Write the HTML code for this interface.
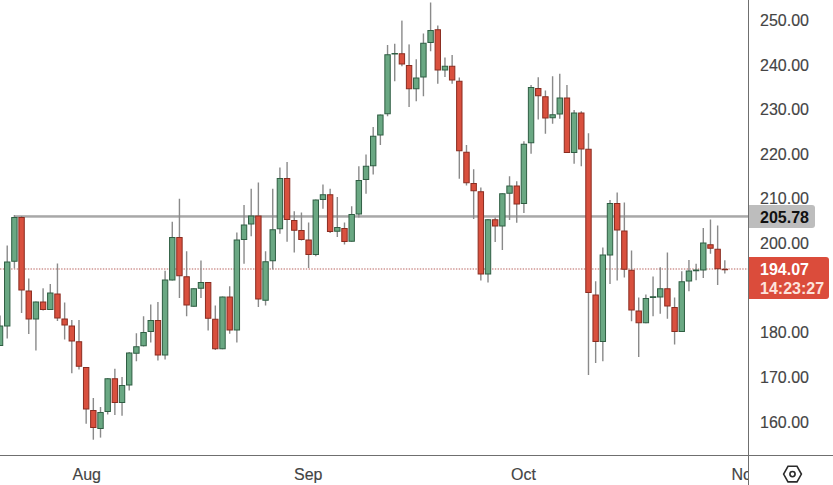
<!DOCTYPE html>
<html><head><meta charset="utf-8">
<style>
html,body{margin:0;padding:0;background:#fff;}
body{width:833px;height:485px;overflow:hidden;position:relative;font-family:"Liberation Sans",sans-serif;}
svg{position:absolute;left:0;top:0;}
.yl{position:absolute;left:760px;-webkit-text-stroke:0.15px #444;height:18px;line-height:18px;font-size:16px;color:#444;white-space:nowrap;}
.xl{position:absolute;top:466px;-webkit-text-stroke:0.15px #444;height:18px;line-height:18px;font-size:16px;color:#444;white-space:nowrap;}
.box{position:absolute;white-space:nowrap;font-weight:bold;font-size:16px;}
</style></head><body>
<svg width="833" height="485" viewBox="0 0 833 485">
<defs><clipPath id="cp"><rect x="0" y="0" width="748" height="455"/></clipPath></defs>
<g clip-path="url(#cp)">
<line x1="0" y1="269" x2="748" y2="269" stroke="#cf9592" stroke-width="1.3" stroke-dasharray="1.4,1.38"/>
<rect x="14" y="215.2" width="734" height="2.5" fill="#a8a8a8"/>
<rect x="-0.66" y="315.50" width="1.4" height="30.50" fill="#8a8a8a"/>
<rect x="-2.66" y="326.00" width="5.4" height="19.50" fill="#6aa883" stroke="#2f5e43" stroke-width="1"/>
<rect x="6.52" y="245.50" width="1.4" height="93.00" fill="#8a8a8a"/>
<rect x="4.52" y="262.00" width="5.4" height="64.00" fill="#6aa883" stroke="#2f5e43" stroke-width="1"/>
<rect x="13.70" y="215.00" width="1.4" height="53.50" fill="#8a8a8a"/>
<rect x="11.70" y="217.50" width="5.4" height="43.75" fill="#6aa883" stroke="#2f5e43" stroke-width="1"/>
<rect x="20.87" y="216.00" width="1.4" height="97.00" fill="#8a8a8a"/>
<rect x="18.87" y="217.50" width="5.4" height="72.50" fill="#d9503e" stroke="#8a2c20" stroke-width="1"/>
<rect x="28.05" y="278.50" width="1.4" height="55.50" fill="#8a8a8a"/>
<rect x="26.05" y="291.00" width="5.4" height="28.00" fill="#d9503e" stroke="#8a2c20" stroke-width="1"/>
<rect x="35.22" y="301.50" width="1.4" height="49.00" fill="#8a8a8a"/>
<rect x="33.22" y="302.00" width="5.4" height="17.00" fill="#6aa883" stroke="#2f5e43" stroke-width="1"/>
<rect x="42.40" y="288.30" width="1.4" height="22.20" fill="#8a8a8a"/>
<rect x="40.40" y="302.00" width="5.4" height="7.50" fill="#d9503e" stroke="#8a2c20" stroke-width="1"/>
<rect x="49.58" y="284.00" width="1.4" height="26.00" fill="#8a8a8a"/>
<rect x="47.58" y="293.00" width="5.4" height="16.50" fill="#6aa883" stroke="#2f5e43" stroke-width="1"/>
<rect x="56.75" y="263.50" width="1.4" height="57.50" fill="#8a8a8a"/>
<rect x="54.75" y="294.00" width="5.4" height="24.00" fill="#d9503e" stroke="#8a2c20" stroke-width="1"/>
<rect x="63.93" y="302.50" width="1.4" height="37.00" fill="#8a8a8a"/>
<rect x="61.93" y="319.00" width="5.4" height="6.00" fill="#d9503e" stroke="#8a2c20" stroke-width="1"/>
<rect x="71.10" y="320.00" width="1.4" height="53.25" fill="#8a8a8a"/>
<rect x="69.10" y="326.00" width="5.4" height="15.00" fill="#d9503e" stroke="#8a2c20" stroke-width="1"/>
<rect x="78.28" y="320.00" width="1.4" height="49.50" fill="#8a8a8a"/>
<rect x="76.28" y="341.75" width="5.4" height="24.50" fill="#d9503e" stroke="#8a2c20" stroke-width="1"/>
<rect x="85.46" y="367.00" width="1.4" height="56.75" fill="#8a8a8a"/>
<rect x="83.46" y="367.50" width="5.4" height="41.50" fill="#d9503e" stroke="#8a2c20" stroke-width="1"/>
<rect x="92.63" y="398.00" width="1.4" height="41.70" fill="#8a8a8a"/>
<rect x="90.63" y="410.50" width="5.4" height="17.00" fill="#d9503e" stroke="#8a2c20" stroke-width="1"/>
<rect x="99.81" y="407.00" width="1.4" height="30.60" fill="#8a8a8a"/>
<rect x="97.81" y="412.50" width="5.4" height="16.00" fill="#6aa883" stroke="#2f5e43" stroke-width="1"/>
<rect x="106.98" y="378.00" width="1.4" height="36.50" fill="#8a8a8a"/>
<rect x="104.98" y="378.75" width="5.4" height="32.75" fill="#6aa883" stroke="#2f5e43" stroke-width="1"/>
<rect x="114.16" y="368.75" width="1.4" height="46.25" fill="#8a8a8a"/>
<rect x="112.16" y="378.75" width="5.4" height="23.75" fill="#d9503e" stroke="#8a2c20" stroke-width="1"/>
<rect x="121.34" y="377.00" width="1.4" height="38.75" fill="#8a8a8a"/>
<rect x="119.34" y="385.50" width="5.4" height="17.00" fill="#6aa883" stroke="#2f5e43" stroke-width="1"/>
<rect x="128.51" y="352.00" width="1.4" height="38.50" fill="#8a8a8a"/>
<rect x="126.51" y="353.00" width="5.4" height="32.00" fill="#6aa883" stroke="#2f5e43" stroke-width="1"/>
<rect x="135.69" y="333.25" width="1.4" height="28.00" fill="#8a8a8a"/>
<rect x="133.69" y="346.75" width="5.4" height="6.50" fill="#6aa883" stroke="#2f5e43" stroke-width="1"/>
<rect x="142.86" y="316.25" width="1.4" height="30.25" fill="#8a8a8a"/>
<rect x="140.86" y="332.50" width="5.4" height="13.25" fill="#6aa883" stroke="#2f5e43" stroke-width="1"/>
<rect x="150.04" y="304.50" width="1.4" height="38.00" fill="#8a8a8a"/>
<rect x="148.04" y="320.50" width="5.4" height="11.00" fill="#6aa883" stroke="#2f5e43" stroke-width="1"/>
<rect x="157.22" y="302.00" width="1.4" height="58.50" fill="#8a8a8a"/>
<rect x="155.22" y="320.50" width="5.4" height="34.50" fill="#d9503e" stroke="#8a2c20" stroke-width="1"/>
<rect x="164.39" y="270.75" width="1.4" height="88.75" fill="#8a8a8a"/>
<rect x="162.39" y="280.00" width="5.4" height="75.00" fill="#6aa883" stroke="#2f5e43" stroke-width="1"/>
<rect x="171.57" y="221.75" width="1.4" height="58.75" fill="#8a8a8a"/>
<rect x="169.57" y="237.50" width="5.4" height="42.50" fill="#6aa883" stroke="#2f5e43" stroke-width="1"/>
<rect x="178.74" y="198.75" width="1.4" height="99.25" fill="#8a8a8a"/>
<rect x="176.74" y="237.50" width="5.4" height="38.25" fill="#d9503e" stroke="#8a2c20" stroke-width="1"/>
<rect x="185.92" y="251.25" width="1.4" height="65.00" fill="#8a8a8a"/>
<rect x="183.92" y="276.75" width="5.4" height="28.25" fill="#d9503e" stroke="#8a2c20" stroke-width="1"/>
<rect x="193.10" y="288.25" width="1.4" height="18.50" fill="#8a8a8a"/>
<rect x="191.10" y="288.75" width="5.4" height="17.50" fill="#6aa883" stroke="#2f5e43" stroke-width="1"/>
<rect x="200.27" y="260.50" width="1.4" height="37.50" fill="#8a8a8a"/>
<rect x="198.27" y="282.50" width="5.4" height="5.75" fill="#6aa883" stroke="#2f5e43" stroke-width="1"/>
<rect x="207.45" y="282.00" width="1.4" height="48.50" fill="#8a8a8a"/>
<rect x="205.45" y="282.50" width="5.4" height="35.75" fill="#d9503e" stroke="#8a2c20" stroke-width="1"/>
<rect x="214.62" y="305.50" width="1.4" height="44.50" fill="#8a8a8a"/>
<rect x="212.62" y="319.25" width="5.4" height="29.50" fill="#d9503e" stroke="#8a2c20" stroke-width="1"/>
<rect x="221.80" y="296.50" width="1.4" height="52.75" fill="#8a8a8a"/>
<rect x="219.80" y="297.00" width="5.4" height="51.75" fill="#6aa883" stroke="#2f5e43" stroke-width="1"/>
<rect x="228.98" y="286.25" width="1.4" height="47.50" fill="#8a8a8a"/>
<rect x="226.98" y="297.00" width="5.4" height="33.00" fill="#d9503e" stroke="#8a2c20" stroke-width="1"/>
<rect x="236.15" y="232.50" width="1.4" height="110.00" fill="#8a8a8a"/>
<rect x="234.15" y="240.00" width="5.4" height="90.00" fill="#6aa883" stroke="#2f5e43" stroke-width="1"/>
<rect x="243.33" y="205.00" width="1.4" height="58.75" fill="#8a8a8a"/>
<rect x="241.33" y="225.00" width="5.4" height="14.50" fill="#6aa883" stroke="#2f5e43" stroke-width="1"/>
<rect x="250.50" y="188.75" width="1.4" height="47.50" fill="#8a8a8a"/>
<rect x="248.50" y="216.00" width="5.4" height="8.00" fill="#6aa883" stroke="#2f5e43" stroke-width="1"/>
<rect x="257.68" y="182.50" width="1.4" height="124.50" fill="#8a8a8a"/>
<rect x="255.68" y="216.00" width="5.4" height="83.00" fill="#d9503e" stroke="#8a2c20" stroke-width="1"/>
<rect x="264.86" y="251.25" width="1.4" height="54.25" fill="#8a8a8a"/>
<rect x="262.86" y="261.75" width="5.4" height="38.50" fill="#6aa883" stroke="#2f5e43" stroke-width="1"/>
<rect x="272.03" y="188.75" width="1.4" height="80.75" fill="#8a8a8a"/>
<rect x="270.03" y="229.75" width="5.4" height="31.00" fill="#6aa883" stroke="#2f5e43" stroke-width="1"/>
<rect x="279.21" y="167.50" width="1.4" height="66.25" fill="#8a8a8a"/>
<rect x="277.21" y="178.50" width="5.4" height="50.25" fill="#6aa883" stroke="#2f5e43" stroke-width="1"/>
<rect x="286.38" y="162.00" width="1.4" height="79.75" fill="#8a8a8a"/>
<rect x="284.38" y="178.50" width="5.4" height="41.00" fill="#d9503e" stroke="#8a2c20" stroke-width="1"/>
<rect x="293.56" y="211.25" width="1.4" height="41.25" fill="#8a8a8a"/>
<rect x="291.56" y="220.50" width="5.4" height="9.75" fill="#d9503e" stroke="#8a2c20" stroke-width="1"/>
<rect x="300.74" y="212.50" width="1.4" height="28.00" fill="#8a8a8a"/>
<rect x="298.74" y="230.50" width="5.4" height="9.00" fill="#d9503e" stroke="#8a2c20" stroke-width="1"/>
<rect x="307.91" y="222.50" width="1.4" height="45.50" fill="#8a8a8a"/>
<rect x="305.91" y="240.00" width="5.4" height="14.50" fill="#d9503e" stroke="#8a2c20" stroke-width="1"/>
<rect x="315.09" y="199.50" width="1.4" height="56.75" fill="#8a8a8a"/>
<rect x="313.09" y="200.00" width="5.4" height="54.50" fill="#6aa883" stroke="#2f5e43" stroke-width="1"/>
<rect x="322.26" y="184.50" width="1.4" height="24.25" fill="#8a8a8a"/>
<rect x="320.26" y="194.75" width="5.4" height="4.75" fill="#6aa883" stroke="#2f5e43" stroke-width="1"/>
<rect x="329.44" y="188.75" width="1.4" height="44.25" fill="#8a8a8a"/>
<rect x="327.44" y="194.75" width="5.4" height="36.75" fill="#d9503e" stroke="#8a2c20" stroke-width="1"/>
<rect x="336.62" y="197.00" width="1.4" height="40.00" fill="#8a8a8a"/>
<rect x="334.62" y="227.50" width="5.4" height="3.75" fill="#6aa883" stroke="#2f5e43" stroke-width="1"/>
<rect x="343.79" y="222.50" width="1.4" height="22.00" fill="#8a8a8a"/>
<rect x="341.79" y="228.50" width="5.4" height="13.00" fill="#d9503e" stroke="#8a2c20" stroke-width="1"/>
<rect x="350.97" y="206.25" width="1.4" height="35.50" fill="#8a8a8a"/>
<rect x="348.97" y="214.50" width="5.4" height="26.75" fill="#6aa883" stroke="#2f5e43" stroke-width="1"/>
<rect x="358.14" y="166.25" width="1.4" height="51.25" fill="#8a8a8a"/>
<rect x="356.14" y="180.50" width="5.4" height="33.50" fill="#6aa883" stroke="#2f5e43" stroke-width="1"/>
<rect x="365.32" y="154.50" width="1.4" height="39.25" fill="#8a8a8a"/>
<rect x="363.32" y="166.25" width="5.4" height="13.25" fill="#6aa883" stroke="#2f5e43" stroke-width="1"/>
<rect x="372.50" y="127.00" width="1.4" height="47.50" fill="#8a8a8a"/>
<rect x="370.50" y="136.25" width="5.4" height="29.50" fill="#6aa883" stroke="#2f5e43" stroke-width="1"/>
<rect x="379.67" y="114.50" width="1.4" height="30.50" fill="#8a8a8a"/>
<rect x="377.67" y="115.00" width="5.4" height="20.00" fill="#6aa883" stroke="#2f5e43" stroke-width="1"/>
<rect x="386.85" y="45.00" width="1.4" height="71.25" fill="#8a8a8a"/>
<rect x="384.85" y="54.75" width="5.4" height="59.00" fill="#6aa883" stroke="#2f5e43" stroke-width="1"/>
<rect x="394.02" y="43.75" width="1.4" height="37.50" fill="#8a8a8a"/>
<rect x="392.02" y="53.50" width="5.4" height="0.50" fill="#6aa883" stroke="#2f5e43" stroke-width="1"/>
<rect x="401.20" y="20.60" width="1.4" height="45.65" fill="#8a8a8a"/>
<rect x="399.20" y="53.75" width="5.4" height="10.25" fill="#d9503e" stroke="#8a2c20" stroke-width="1"/>
<rect x="408.38" y="44.40" width="1.4" height="62.60" fill="#8a8a8a"/>
<rect x="406.38" y="65.50" width="5.4" height="23.25" fill="#d9503e" stroke="#8a2c20" stroke-width="1"/>
<rect x="415.55" y="59.25" width="1.4" height="42.00" fill="#8a8a8a"/>
<rect x="413.55" y="78.00" width="5.4" height="10.75" fill="#6aa883" stroke="#2f5e43" stroke-width="1"/>
<rect x="422.73" y="33.50" width="1.4" height="62.75" fill="#8a8a8a"/>
<rect x="420.73" y="43.25" width="5.4" height="33.75" fill="#6aa883" stroke="#2f5e43" stroke-width="1"/>
<rect x="429.90" y="2.50" width="1.4" height="48.75" fill="#8a8a8a"/>
<rect x="427.90" y="30.50" width="5.4" height="12.00" fill="#6aa883" stroke="#2f5e43" stroke-width="1"/>
<rect x="437.08" y="25.50" width="1.4" height="58.25" fill="#8a8a8a"/>
<rect x="435.08" y="29.75" width="5.4" height="40.25" fill="#d9503e" stroke="#8a2c20" stroke-width="1"/>
<rect x="444.26" y="57.50" width="1.4" height="19.50" fill="#8a8a8a"/>
<rect x="442.26" y="66.25" width="5.4" height="3.75" fill="#6aa883" stroke="#2f5e43" stroke-width="1"/>
<rect x="451.43" y="55.00" width="1.4" height="28.75" fill="#8a8a8a"/>
<rect x="449.43" y="66.25" width="5.4" height="13.75" fill="#d9503e" stroke="#8a2c20" stroke-width="1"/>
<rect x="458.61" y="77.50" width="1.4" height="101.25" fill="#8a8a8a"/>
<rect x="456.61" y="81.25" width="5.4" height="69.50" fill="#d9503e" stroke="#8a2c20" stroke-width="1"/>
<rect x="465.78" y="145.00" width="1.4" height="40.50" fill="#8a8a8a"/>
<rect x="463.78" y="152.25" width="5.4" height="30.50" fill="#d9503e" stroke="#8a2c20" stroke-width="1"/>
<rect x="472.96" y="169.25" width="1.4" height="49.75" fill="#8a8a8a"/>
<rect x="470.96" y="183.50" width="5.4" height="7.25" fill="#d9503e" stroke="#8a2c20" stroke-width="1"/>
<rect x="480.14" y="187.50" width="1.4" height="93.00" fill="#8a8a8a"/>
<rect x="478.14" y="191.75" width="5.4" height="82.25" fill="#d9503e" stroke="#8a2c20" stroke-width="1"/>
<rect x="487.31" y="219.25" width="1.4" height="63.25" fill="#8a8a8a"/>
<rect x="485.31" y="219.75" width="5.4" height="54.25" fill="#6aa883" stroke="#2f5e43" stroke-width="1"/>
<rect x="494.49" y="217.50" width="1.4" height="24.50" fill="#8a8a8a"/>
<rect x="492.49" y="219.75" width="5.4" height="6.25" fill="#d9503e" stroke="#8a2c20" stroke-width="1"/>
<rect x="501.66" y="193.25" width="1.4" height="56.75" fill="#8a8a8a"/>
<rect x="499.66" y="193.75" width="5.4" height="32.25" fill="#6aa883" stroke="#2f5e43" stroke-width="1"/>
<rect x="508.84" y="176.25" width="1.4" height="43.75" fill="#8a8a8a"/>
<rect x="506.84" y="186.00" width="5.4" height="7.25" fill="#6aa883" stroke="#2f5e43" stroke-width="1"/>
<rect x="516.02" y="181.25" width="1.4" height="41.50" fill="#8a8a8a"/>
<rect x="514.02" y="186.00" width="5.4" height="18.00" fill="#d9503e" stroke="#8a2c20" stroke-width="1"/>
<rect x="523.19" y="141.25" width="1.4" height="71.75" fill="#8a8a8a"/>
<rect x="521.19" y="144.25" width="5.4" height="59.25" fill="#6aa883" stroke="#2f5e43" stroke-width="1"/>
<rect x="530.37" y="85.00" width="1.4" height="68.75" fill="#8a8a8a"/>
<rect x="528.37" y="87.50" width="5.4" height="55.25" fill="#6aa883" stroke="#2f5e43" stroke-width="1"/>
<rect x="537.54" y="77.25" width="1.4" height="42.25" fill="#8a8a8a"/>
<rect x="535.54" y="88.50" width="5.4" height="7.25" fill="#d9503e" stroke="#8a2c20" stroke-width="1"/>
<rect x="544.72" y="90.50" width="1.4" height="43.25" fill="#8a8a8a"/>
<rect x="542.72" y="96.75" width="5.4" height="21.25" fill="#d9503e" stroke="#8a2c20" stroke-width="1"/>
<rect x="551.90" y="76.25" width="1.4" height="47.50" fill="#8a8a8a"/>
<rect x="549.90" y="114.75" width="5.4" height="3.00" fill="#6aa883" stroke="#2f5e43" stroke-width="1"/>
<rect x="559.07" y="73.75" width="1.4" height="45.00" fill="#8a8a8a"/>
<rect x="557.07" y="98.00" width="5.4" height="16.00" fill="#6aa883" stroke="#2f5e43" stroke-width="1"/>
<rect x="566.25" y="85.00" width="1.4" height="68.00" fill="#8a8a8a"/>
<rect x="564.25" y="98.00" width="5.4" height="54.50" fill="#d9503e" stroke="#8a2c20" stroke-width="1"/>
<rect x="573.42" y="110.00" width="1.4" height="53.75" fill="#8a8a8a"/>
<rect x="571.42" y="113.00" width="5.4" height="39.50" fill="#6aa883" stroke="#2f5e43" stroke-width="1"/>
<rect x="580.60" y="111.25" width="1.4" height="55.00" fill="#8a8a8a"/>
<rect x="578.60" y="113.00" width="5.4" height="36.00" fill="#d9503e" stroke="#8a2c20" stroke-width="1"/>
<rect x="587.78" y="133.25" width="1.4" height="241.75" fill="#8a8a8a"/>
<rect x="585.78" y="149.25" width="5.4" height="143.25" fill="#d9503e" stroke="#8a2c20" stroke-width="1"/>
<rect x="594.95" y="281.25" width="1.4" height="81.75" fill="#8a8a8a"/>
<rect x="592.95" y="295.00" width="5.4" height="46.50" fill="#d9503e" stroke="#8a2c20" stroke-width="1"/>
<rect x="602.13" y="247.50" width="1.4" height="113.75" fill="#8a8a8a"/>
<rect x="600.13" y="255.00" width="5.4" height="86.50" fill="#6aa883" stroke="#2f5e43" stroke-width="1"/>
<rect x="609.30" y="200.00" width="1.4" height="84.00" fill="#8a8a8a"/>
<rect x="607.30" y="203.50" width="5.4" height="51.50" fill="#6aa883" stroke="#2f5e43" stroke-width="1"/>
<rect x="616.48" y="192.50" width="1.4" height="88.00" fill="#8a8a8a"/>
<rect x="614.48" y="203.50" width="5.4" height="26.50" fill="#d9503e" stroke="#8a2c20" stroke-width="1"/>
<rect x="623.66" y="202.50" width="1.4" height="75.00" fill="#8a8a8a"/>
<rect x="621.66" y="231.00" width="5.4" height="38.25" fill="#d9503e" stroke="#8a2c20" stroke-width="1"/>
<rect x="630.83" y="250.50" width="1.4" height="70.75" fill="#8a8a8a"/>
<rect x="628.83" y="270.25" width="5.4" height="39.75" fill="#d9503e" stroke="#8a2c20" stroke-width="1"/>
<rect x="638.01" y="297.50" width="1.4" height="59.50" fill="#8a8a8a"/>
<rect x="636.01" y="311.00" width="5.4" height="11.75" fill="#d9503e" stroke="#8a2c20" stroke-width="1"/>
<rect x="645.18" y="294.50" width="1.4" height="28.75" fill="#8a8a8a"/>
<rect x="643.18" y="298.50" width="5.4" height="24.25" fill="#6aa883" stroke="#2f5e43" stroke-width="1"/>
<rect x="652.36" y="276.50" width="1.4" height="39.75" fill="#8a8a8a"/>
<rect x="650.36" y="296.75" width="5.4" height="0.75" fill="#6aa883" stroke="#2f5e43" stroke-width="1"/>
<rect x="659.54" y="267.25" width="1.4" height="46.50" fill="#8a8a8a"/>
<rect x="657.54" y="288.75" width="5.4" height="8.25" fill="#6aa883" stroke="#2f5e43" stroke-width="1"/>
<rect x="666.71" y="252.50" width="1.4" height="66.25" fill="#8a8a8a"/>
<rect x="664.71" y="288.75" width="5.4" height="17.25" fill="#d9503e" stroke="#8a2c20" stroke-width="1"/>
<rect x="673.89" y="297.50" width="1.4" height="47.00" fill="#8a8a8a"/>
<rect x="671.89" y="307.50" width="5.4" height="24.00" fill="#d9503e" stroke="#8a2c20" stroke-width="1"/>
<rect x="681.06" y="271.25" width="1.4" height="60.75" fill="#8a8a8a"/>
<rect x="679.06" y="281.75" width="5.4" height="49.75" fill="#6aa883" stroke="#2f5e43" stroke-width="1"/>
<rect x="688.24" y="260.00" width="1.4" height="31.25" fill="#8a8a8a"/>
<rect x="686.24" y="271.00" width="5.4" height="10.00" fill="#6aa883" stroke="#2f5e43" stroke-width="1"/>
<rect x="695.42" y="263.75" width="1.4" height="16.50" fill="#8a8a8a"/>
<rect x="693.42" y="270.00" width="5.4" height="0.75" fill="#6aa883" stroke="#2f5e43" stroke-width="1"/>
<rect x="702.59" y="228.00" width="1.4" height="50.00" fill="#8a8a8a"/>
<rect x="700.59" y="243.00" width="5.4" height="27.00" fill="#6aa883" stroke="#2f5e43" stroke-width="1"/>
<rect x="709.77" y="219.50" width="1.4" height="34.25" fill="#8a8a8a"/>
<rect x="707.77" y="244.75" width="5.4" height="3.50" fill="#d9503e" stroke="#8a2c20" stroke-width="1"/>
<rect x="716.94" y="225.50" width="1.4" height="59.50" fill="#8a8a8a"/>
<rect x="714.94" y="249.25" width="5.4" height="19.50" fill="#d9503e" stroke="#8a2c20" stroke-width="1"/>
<rect x="724.12" y="260.25" width="1.4" height="13.25" fill="#8a8a8a"/>
<rect x="722.12" y="269.25" width="5.4" height="0.50" fill="#d9503e" stroke="#8a2c20" stroke-width="1"/>
</g>
<rect x="748" y="0" width="1" height="485" fill="#6f6f6f"/>
<rect x="0" y="455" width="833" height="1" fill="#6f6f6f"/>
<g fill="none" stroke="#2b2b2b" stroke-width="1.6">
<polygon points="783.6,474.1 788,466.3 797,466.3 801.4,474.1 797,481.9 788,481.9"/>
<circle cx="792.5" cy="474.1" r="2.6"/>
</g>
</svg>
<div class="yl" style="top:12.25px">250.00</div>
<div class="yl" style="top:56.60px">240.00</div>
<div class="yl" style="top:100.75px">230.00</div>
<div class="yl" style="top:145.90px">220.00</div>
<div class="yl" style="top:190.40px">210.00</div>
<div class="yl" style="top:235.20px">200.00</div>
<div class="yl" style="top:324.00px">180.00</div>
<div class="yl" style="top:368.50px">170.00</div>
<div class="yl" style="top:413.50px">160.00</div>
<div class="box" style="left:749px;top:205.2px;width:65.5px;height:23.3px;background:#bdbdbd;border-radius:0 3px 3px 0;"></div>
<div class="box" style="left:760px;top:209px;line-height:18px;color:#111;">205.78</div>
<div class="box" style="left:749px;top:257.2px;width:80px;height:42px;background:#db4c3b;border-radius:0 3px 3px 0;"></div>
<div class="box" style="left:760px;top:261px;line-height:18px;color:#fff;">194.07</div>
<div class="box" style="left:760px;top:279.5px;line-height:18px;color:#fde3dc;">14:23:27</div>
<div class="xl" style="left:72.5px">Aug</div>
<div class="xl" style="left:294px">Sep</div>
<div class="xl" style="left:511px">Oct</div>
<div style="position:absolute;left:0;top:456px;width:748px;height:29px;overflow:hidden;">
<div class="xl" style="left:731.5px;top:10px">Nov</div>
</div>
</body></html>
